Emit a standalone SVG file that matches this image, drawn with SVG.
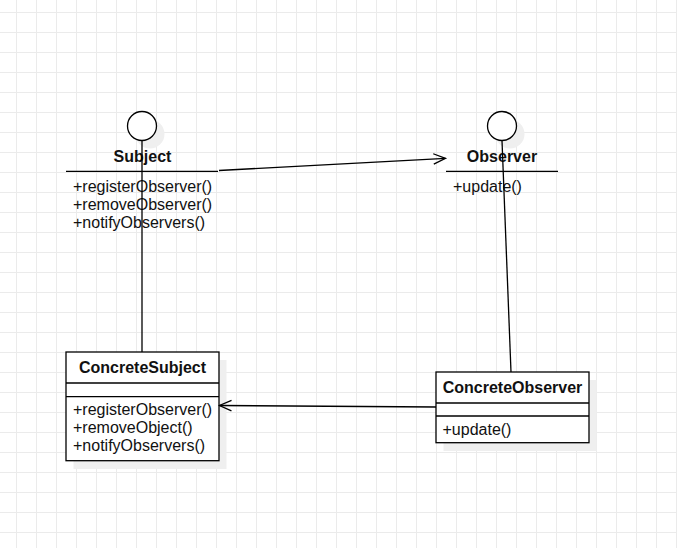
<svg xmlns="http://www.w3.org/2000/svg" width="677" height="548" viewBox="0 0 677 548">
<defs>
<pattern id="grid" x="16" y="12" width="20" height="20" patternUnits="userSpaceOnUse">
<path d="M0.5 0V20M0 0.5H20" fill="none" stroke="#ebebeb" stroke-width="1"/>
</pattern>
<marker id="open" viewBox="0 0 14 12" refX="13" refY="6" markerWidth="14" markerHeight="12" markerUnits="userSpaceOnUse" orient="auto" overflow="visible">
<path d="M1 0.8L13 6L1 11.2" fill="none" stroke="#000" stroke-width="1.3"/>
</marker>
</defs>
<style>
text{font-family:"Liberation Sans",Arial,sans-serif;font-size:16px;fill:#111}
.t{font-weight:bold;text-anchor:middle}
.b{fill:#fff;stroke:#000;stroke-width:1.3}
.s{fill:#efefef;stroke:none}
.l{fill:none;stroke:#000;stroke-width:1.3}
</style>
<rect width="677" height="548" fill="#fff"/>
<rect width="677" height="548" fill="url(#grid)"/>

<g id="Subject">
<circle class="s" cx="150" cy="134" r="14.5"/>
<circle class="b" cx="142" cy="126" r="14.5"/>
<text class="t" x="142.5" y="162">Subject</text>
<line class="l" x1="66" y1="171.3" x2="218" y2="171.3"/>
<text x="73" y="191.5">+registerObserver()</text>
<text x="73" y="210">+removeObserver()</text>
<text x="73" y="228.3">+notifyObservers()</text>
</g>

<g id="Observer">
<circle class="s" cx="510" cy="134" r="14.5"/>
<circle class="b" cx="502" cy="126" r="14.5"/>
<text class="t" x="502" y="162">Observer</text>
<line class="l" x1="446" y1="171.3" x2="558" y2="171.3"/>
<text x="453" y="191.5">+update()</text>
</g>

<g id="ConcreteSubject">
<rect class="s" x="73.5" y="360" width="153" height="109"/>
<rect class="b" x="66" y="352" width="153" height="108.7"/>
<line class="l" x1="66" y1="383" x2="219" y2="383"/>
<line class="l" x1="66" y1="396.7" x2="219" y2="396.7"/>
<text class="t" x="142.5" y="372.5">ConcreteSubject</text>
<text x="73" y="415">+registerObserver()</text>
<text x="73" y="433.3">+removeObject()</text>
<text x="73" y="451.3">+notifyObservers()</text>
</g>

<g id="ConcreteObserver">
<rect class="s" x="443.5" y="380" width="153" height="71"/>
<rect class="b" x="436" y="372" width="153" height="70.7"/>
<line class="l" x1="436" y1="403" x2="589" y2="403"/>
<line class="l" x1="436" y1="416" x2="589" y2="416"/>
<text class="t" x="512.5" y="392.5">ConcreteObserver</text>
<text x="442.5" y="435">+update()</text>
</g>

<g id="connectors">
<line class="l" x1="142" y1="140.5" x2="142" y2="352"/>
<line class="l" x1="502" y1="140.5" x2="511" y2="372"/>
<line class="l" x1="219" y1="170.5" x2="445.5" y2="158.3" marker-end="url(#open)"/>
<line class="l" x1="436" y1="407" x2="219.5" y2="405.5" marker-end="url(#open)"/>
</g>
</svg>
